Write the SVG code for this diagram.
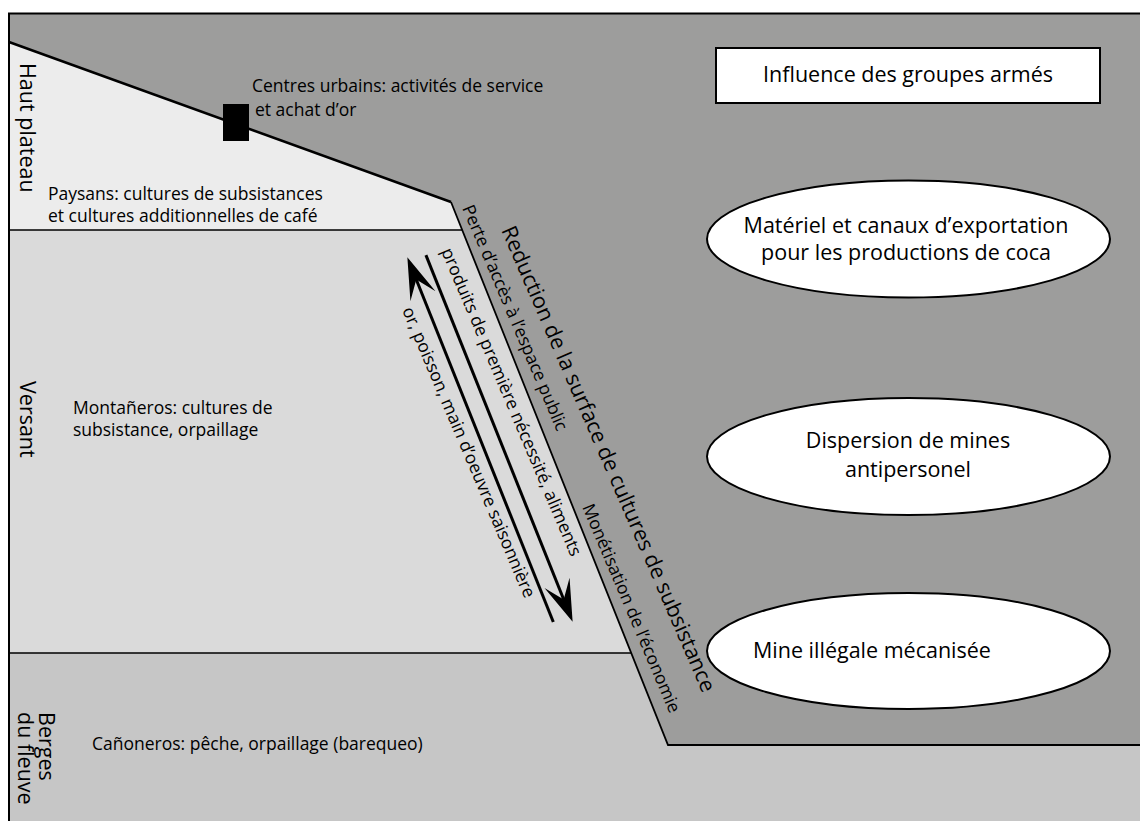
<svg xmlns="http://www.w3.org/2000/svg" width="1140" height="821" viewBox="0 0 1140 821">
<defs>
<style>
.t{font-family:"Open Sans","Liberation Sans",sans-serif;fill:#000}
.s{font-size:17.5px}
.b{font-size:21.5px}
.ln{fill:none;stroke:#000}
.node{fill:#fff;stroke:#000;stroke-width:2}
.arr{fill:none;stroke:#000;stroke-width:3}
</style>
<marker id="ah" markerUnits="userSpaceOnUse" markerWidth="50" markerHeight="32" viewBox="-44 -16 50 32" refX="-20" refY="0" orient="auto">
<path d="M0,0 L-42,-13.5 L-24,0 L-42,13.5 Z" fill="#000"/>
</marker>
</defs>
<rect width="1140" height="821" fill="#fff"/>
<g id="zone-armed">
<polygon points="9,13.5 1140,13.5 1140,745 668,745 451,202 9,42" fill="#9d9d9c"/>
</g>
<g id="zone-haut-plateau">
<polygon points="9,42 451,202 462.2,230 9,230" fill="#ececec"/>
<text class="t b" transform="translate(20,63) rotate(90)">Haut plateau</text>
<text class="t s" x="48" y="200">Paysans: cultures de subsistances</text>
<text class="t s" x="48" y="222">et cultures additionnelles de café</text>
</g>
<g id="zone-versant">
<polygon points="9,230 462.2,230 631.2,653 9,653" fill="#dadada"/>
<text class="t b" transform="translate(20,381) rotate(90)">Versant</text>
<text class="t s" x="73" y="414">Montañeros: cultures de</text>
<text class="t s" x="73" y="436">subsistance, orpaillage</text>
</g>
<g id="zone-berges">
<polygon points="9,653 631.2,653 668,745 1140,745 1140,821 9,821" fill="#c6c6c6"/>
<text class="t b" transform="translate(39,712) rotate(90)">Berges</text>
<text class="t b" transform="translate(18,712) rotate(90)">du fleuve</text>
<text class="t s" x="92" y="750">Cañoneros: pêche, orpaillage (barequeo)</text>
</g>
<g id="borders">
<path class="ln" stroke-width="2" d="M9,821 V13.5 H1140"/>
<path class="ln" stroke-width="2.5" d="M9,42 L451,202"/>
<path class="ln" stroke-width="1.8" d="M451,202 L668,745 H1140"/>
<path class="ln" stroke-width="1.5" d="M9,230 H462.2 M9,653 H631.2"/>
</g>
<g id="urban-center">
<rect x="223" y="104" width="26" height="37" fill="#000"/>
<text class="t s" x="252" y="92">Centres urbains: activités de service</text>
<text class="t s" x="255" y="116">et achat d’or</text>
</g>
<g id="influence">
<rect class="node" x="716" y="48" width="384" height="55"/>
<text class="t b" x="908" y="82" text-anchor="middle">Influence des groupes armés</text>
</g>
<g id="coca">
<ellipse class="node" cx="908.5" cy="239" rx="201.5" ry="58.5"/>
<text class="t b" x="906" y="233" text-anchor="middle">Matériel et canaux d’exportation</text>
<text class="t b" x="906" y="260" text-anchor="middle">pour les productions de coca</text>
</g>
<g id="mines">
<ellipse class="node" cx="908.5" cy="456.5" rx="201.5" ry="58.5"/>
<text class="t b" x="908" y="448" text-anchor="middle">Dispersion de mines</text>
<text class="t b" x="908" y="477" text-anchor="middle">antipersonel</text>
</g>
<g id="illegal-mine">
<ellipse class="node" cx="908.5" cy="651" rx="201.5" ry="58"/>
<text class="t b" x="753" y="658">Mine illégale mécanisée</text>
</g>
<g id="band-labels">
<text class="t b" transform="translate(501,230) rotate(66.5)">Reduction de la surface de cultures de subsistance</text>
<text class="t s" transform="translate(462,208) rotate(67)">Perte d’accès à l’espace public</text>
<text class="t s" transform="translate(582,507) rotate(67)">Monétisation de l’économie</text>
<text class="t s" transform="translate(441,251) rotate(67)">produits de première nécessité, aliments</text>
<text class="t s" transform="translate(402,310) rotate(67)">or, poisson, main d’oeuvre saisonnière</text>
</g>
<g id="connectors" transform="translate(451,202) rotate(68.2)">
<path class="arr" d="M428,61 H55" marker-end="url(#ah)"/>
<path class="arr" d="M40,43 H415" marker-end="url(#ah)"/>
</g>
</svg>
